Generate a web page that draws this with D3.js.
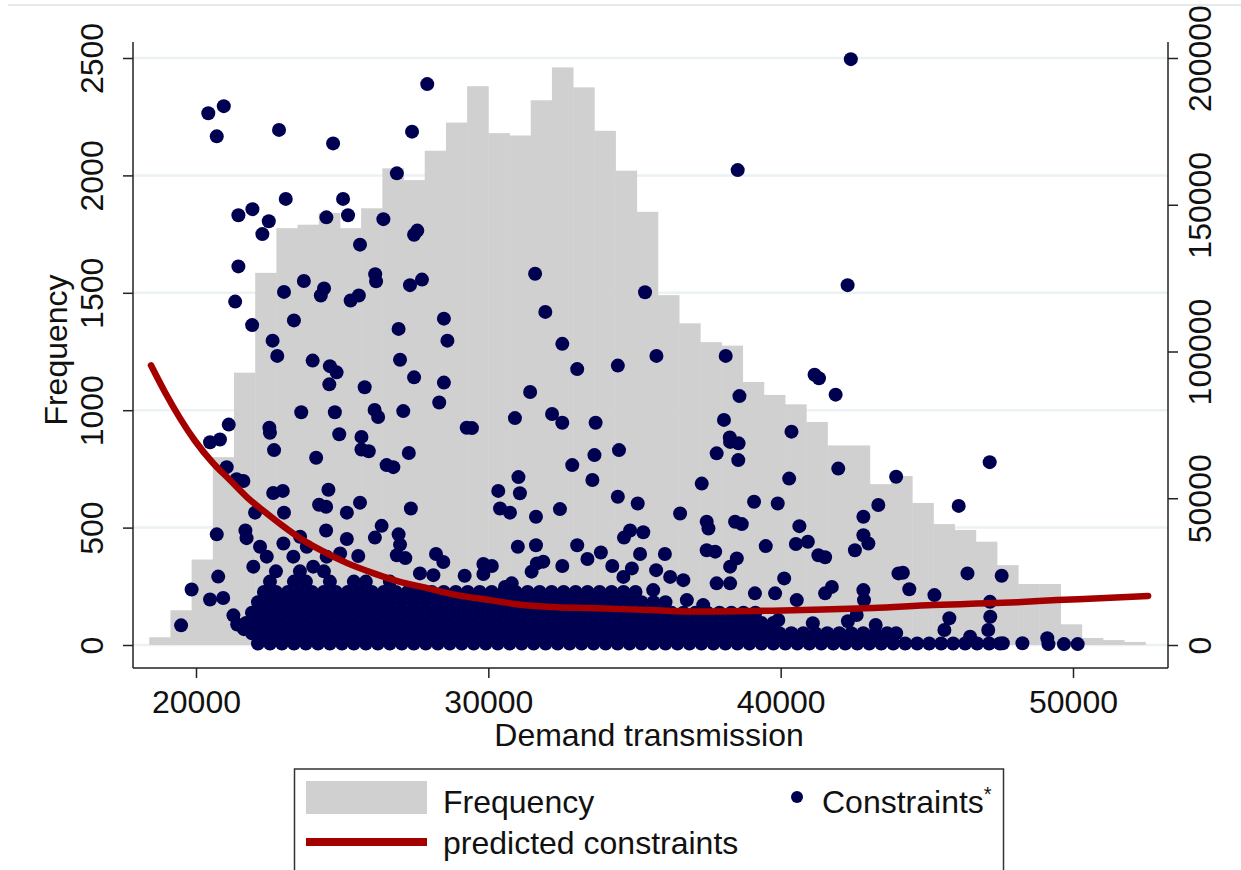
<!DOCTYPE html>
<html>
<head>
<meta charset="utf-8">
<script src="https://cdn.jsdelivr.net/npm/d3@7"></script>
<style>
  html, body { margin: 0; padding: 0; background: #fff; }
  svg { display: block; font-family: "Liberation Sans", Arial, sans-serif; }
</style>
</head>
<body>
<svg id="chart" width="1241" height="870"></svg>
<script>
// ---- Histogram of demand transmission (left axis: Frequency) ----
const binStart = 18400;
const binWidth = 725;
const binCounts = [
  33, 148, 364, 800, 1160, 1585, 1775, 1790, 1840, 1775,
  1860, 2030, 1980, 2105, 2225, 2380, 2180, 2170, 2320, 2460,
  2375, 2190, 2020, 1845, 1490, 1370, 1290, 1275, 1120, 1065,
  1025, 950, 850, 850, 685, 720, 605, 515, 490, 440,
  340, 260, 260, 88, 30, 21, 13
];

// ---- Axis ticks ----
const freqTicks = [0, 500, 1000, 1500, 2000, 2500];
const constraintTicks = [0, 50000, 100000, 150000, 200000];
const demandTicks = [20000, 30000, 40000, 50000];

// ---- Predicted constraints (right axis) ----
const predictedDemand = [
  18460, 18940, 19450, 19970, 20580, 21160, 21740, 22360, 22980, 23560,
  24140, 25170, 26060, 26980, 27770, 28930, 30060, 31190, 32350, 33480,
  35530, 37240, 39740, 41450, 43160, 45210, 46720, 48090, 49450, 50920, 52570
];
const predictedConstraints = [
  95300, 86100, 77300, 69500, 62000, 56200, 50400, 45300, 40500, 36400,
  33000, 27900, 24500, 21500, 19700, 17000, 15300, 13600, 12900, 12600,
  11900, 11400, 11700, 12100, 12600, 13600, 14100, 14600, 15300, 15900, 16700
];

// ---- Observed constraints: scattered observations [demand, constraints] ----
const constraintPoints = [
  [20420,181200],[20950,183600],[20710,173300],[22840,175500],[24690,170900],[27910,191100],[27390,174900],[26870,160700],
  [21450,146400],[21930,148500],[22490,144400],[22270,140000],[23070,152000],[24460,145700],[25030,152000],[25200,146400],
  [26410,145100],[25610,136400],[27460,139800],[27570,141200],
  [21450,129000],[21340,117000],[21920,109000],[23010,120300],[23690,124000],[24380,121500],[24270,119100],[26130,126300],
  [26160,123900],[27320,122600],[27730,124500],[25290,117400],[25570,119100],
  [22620,103700],[22780,98500],[23350,110600],[23990,96900],[24580,95000],[24810,92900],[24560,88800],[25770,87800],
  [26930,107700],[26980,97200],[27460,91200],[28480,111200],[28600,103700],[28480,89400],[28320,82600],[29260,74000],[29440,73900],
  [31600,126500],[31950,113500],[32530,102600],[33040,94000],[34430,95200],[35360,120200],[31430,86200],[30910,77300],
  [32180,78700],[32530,75700],[33670,75700],[33630,64700],[34470,66400],[32870,61300],[33560,56200],[34430,50500],[35110,48200],
  [31030,57200],[30340,52500],[31080,51700],[30400,46500],[30740,45100],[31630,43700],[32450,46300],[31010,33500],
  [31630,34000],[33040,34000],[33390,29300],[33850,31500],[32530,26900],[34240,26900],[34640,36600],[34850,39000],
  [35300,38400],[35190,31000],
  [21120,75100],[20820,70000],[20480,69100],[22510,74000],[22530,72300],[22670,66400],[23600,79300],[24750,79300],
  [24900,71800],[26110,80100],[26230,77700],[27090,79700],[25660,70900],[25660,66600],[25910,66000],[24110,63800],
  [26520,61300],[26750,60600],[27280,65400],
  [21050,60600],[21390,56500],[21620,55900],[22640,51800],[22970,52500],[24530,52900],[24210,47800],[24450,47100],
  [25160,45100],[25610,48500],[27350,46500],[23010,45100],[22020,45100],
  [20710,37700],[21690,39000],[21730,36400],[24450,39000],[25160,36100],[26120,36600],[26350,40600],[26930,37700],
  [26980,34200],[26870,30600],[27160,29600],[25550,30300],
  [20760,23300],[19850,18900],[20480,15500],[20930,16000],[19490,6700],[21280,10100],[21410,7000],[21640,5400],
  [28210,31000],[28460,28300],[29190,23600],[29830,27600],[30120,26900],[29830,24200],
  [31480,25000],[31660,27800],[31880,28400],[34910,26100],[34620,23200],[27660,24400],[28120,23800],[30570,19800],[30800,21000],
  [22190,33500],[22990,34600],[23560,36900],[23790,33500],[22420,30100],[24010,26700],[24470,30100],[24930,31200],
  [23330,30100],[21960,26700],
  [37810,65300],[38550,63000],[38270,69200],[38560,68700],[37300,55000],[40290,56700],[41970,60100],[43950,57300],
  [39090,48800],[39900,48200],[36560,44800],[37470,42000],[37530,39700],[38440,42000],[38670,41200],[40640,40500],
  [42830,43700],[43340,47700],
  [36040,31000],[37470,32300],[37760,31800],[38500,29500],[38270,26700],[39490,33700],[40520,34400],[40930,35200],
  [41290,30600],[41520,29900],[42540,32300],[42830,37400],[43000,34600],[44030,24400],
  [35740,25500],[36220,23200],[36670,22100],[37810,21000],[38270,21000],[39120,17600],[39810,17600],[40120,22700],
  [40550,15300],[41520,17600],[41750,19800],[42830,18700],[42850,15300],[35640,18700],[36790,15300],[37350,13600],
  [39920,8500],[42600,10200],[35530,9600],[38500,8500],[41100,7400],[42300,8100],[43250,6800],
  [42400,199600],[38530,161800],[42290,122600],[35750,98500],[38120,98500],[41160,92100],[41310,90900],[41880,85300],
  [38590,84800],[38060,76700],[38260,70700],[40370,72700],[47150,62300],[46090,47400],
  [44180,24600],[44400,19000],[45260,17000],[46390,24400],[47560,23600],[47160,14700],[47170,9600],[47100,5100],
  [45770,9100],[45600,5100],[43950,4000],[46480,2800],[47600,600],[48270,600],[49120,2300],[49160,300],[49690,300],[50160,300]
];

// ---- Observed constraints: the dense mass of low values, one row per level ----
const constraintBandRows = [
  { level: 500, demand: [
    22120,22530,22940,23350,23760,24170,24580,24990,25400,25810,26220,26630,27040,27450,27860,28270,
    28680,29090,29500,29910,30320,30730,31140,31550,31960,32370,32780,33190,33600,34010,34420,34830,
    35240,35650,36060,36470,36880,37290,37700,38110,38520,38930,39340,39750,40160,40570,40980,41390,
    41800,42210,42620,43030,43440,43850,44260,44670,45080,45490,45900,46310,46720,47130,47500] },
  { level: 4000, demand: [
    21915,22325,22735,23145,23555,23965,24375,24785,25195,25605,26015,26425,26835,27245,27655,28065,
    28475,28885,29295,29705,30115,30525,30935,31345,31755,32165,32575,32985,33395,33805,34215,34625,
    35035,35445,35855,36265,36675,37085,37495,37905,38315,38725,39135,39545,39955,40365,40775,41185,
    41595,42005,42415,42825,43235,43645] },
  { level: 7500, demand: [
    21710,22120,22530,22940,23350,23760,24170,24580,24990,25400,25810,26220,26630,27040,27450,27860,
    28270,28680,29090,29500,29910,30320,30730,31140,31550,31960,32370,32780,33190,33600,34010,34420,
    34830,35240,35650,36060,36470,36880,37290,37700,38110,38520,38930,39340,39750] },
  { level: 11000, demand: [
    21915,22325,22735,23145,23555,23965,24375,24785,25195,25605,26015,26425,26835,27245,27655,28065,
    28475,28885,29295,29705,30115,30525,30935,31345,31755,32165,32575,32985,33395,33805,34215,34625,
    35035,35445,35855,36265,36675,37085,37495,37905,38315,38725,39135] },
  { level: 14600, demand: [
    22120,22530,22940,23350,23760,24170,24580,24990,25400,25810,26220,26630,27040,27450,27860,28270,
    28680,29090,29500,29910,30320,30730,31140,31550,31960,32370,32780,33190,33600,34010,34420,34830,
    35240,35650,36060] },
  { level: 18100, demand: [
    22325,22735,23145,23555,23965,24375,24785,25195,25605,26015,26425,26835,27245,27655,28065,28475,
    28885,29295,29705,30115,30525,30935,31345,31755,32165,32575,32985,33395,33805,34215,34625,35035] },
  { level: 21600, demand: [
    22530,23350,23760,24580,25400,25810,26630] },
  { level: 25100, demand: [
    22735,23555,24375] }
];
const constraintBand = constraintBandRows.flatMap(row => row.demand.map(d => [d, row.level]));

// ---- Layout ----
const W = 1241;
const frame = { left: 133, right: 1168, top: 42, bottom: 668 };
const ink = "#111";
const axisInk = "#222";
const barFill = "#d0d0d0";
const gridInk = "#eaf2f3";
const dotFill = "#000050";
const lineInk = "#a50000";

const svg = d3.select("#chart");

const x = d3.scaleLinear().domain([20000, 50000]).range([196, 1073]);
const yFreq = d3.scaleLinear().domain([0, 2500]).range([645, 58]);
const yCons = d3.scaleLinear().domain([0, 200000]).range([645, 58]);

// faint rule along the top of the graph region
svg.append("line")
  .attr("x1", 8).attr("x2", W).attr("y1", 5).attr("y2", 5)
  .attr("stroke", "#e4eaec").attr("stroke-width", 2);

// horizontal gridlines at the frequency ticks
svg.append("g").selectAll("line").data(freqTicks).join("line")
  .attr("x1", frame.left).attr("x2", frame.right)
  .attr("y1", d => yFreq(d)).attr("y2", d => yFreq(d))
  .attr("stroke", gridInk).attr("stroke-width", 2.5);

// histogram bars
const bins = binCounts.map((count, i) => ({
  x0: binStart + i * binWidth,
  x1: binStart + (i + 1) * binWidth,
  count
}));
svg.append("g").selectAll("rect").data(bins).join("rect")
  .attr("x", d => x(d.x0))
  .attr("width", d => x(d.x1) - x(d.x0) + 0.4)
  .attr("y", d => yFreq(d.count))
  .attr("height", d => yFreq(0) - yFreq(d.count))
  .attr("fill", barFill);

// constraint observations
svg.append("g").attr("fill", dotFill)
  .selectAll("circle").data(constraintBand.concat(constraintPoints)).join("circle")
  .attr("cx", d => x(d[0]))
  .attr("cy", d => yCons(d[1]))
  .attr("r", 7);

// predicted constraints curve
const predicted = predictedDemand.map((d, i) => [d, predictedConstraints[i]]);
svg.append("path")
  .datum(predicted)
  .attr("fill", "none")
  .attr("stroke", lineInk)
  .attr("stroke-width", 6.5)
  .attr("stroke-linecap", "round")
  .attr("d", d3.line().x(d => x(d[0])).y(d => yCons(d[1])).curve(d3.curveMonotoneX));

// axis lines
const frameLines = [
  [frame.left, frame.top, frame.left, frame.bottom],
  [frame.right, frame.top, frame.right, frame.bottom],
  [frame.left, frame.bottom, frame.right, frame.bottom]
];
svg.append("g").selectAll("line").data(frameLines).join("line")
  .attr("x1", d => d[0]).attr("y1", d => d[1]).attr("x2", d => d[2]).attr("y2", d => d[3])
  .attr("stroke", axisInk).attr("stroke-width", 1.5);

function styleAxis(g) {
  g.select(".domain").remove();
  g.selectAll(".tick line").attr("stroke", axisInk).attr("stroke-width", 1.5);
  g.selectAll(".tick text")
    .attr("fill", ink)
    .style("font-size", "32px")
    .style("font-family", "'Liberation Sans', Arial, sans-serif");
}

// left axis: Frequency
const leftAxis = svg.append("g")
  .attr("transform", `translate(${frame.left},0)`)
  .call(d3.axisLeft(yFreq).tickValues(freqTicks).tickSize(10).tickFormat(d3.format("d")));
styleAxis(leftAxis);
leftAxis.selectAll(".tick text")
  .attr("x", null).attr("dy", null)
  .attr("text-anchor", "middle")
  .attr("transform", "translate(-30,0) rotate(-90)");

// right axis: constraints
const rightAxis = svg.append("g")
  .attr("transform", `translate(${frame.right},0)`)
  .call(d3.axisRight(yCons).tickValues(constraintTicks).tickSize(10).tickFormat(d3.format("d")));
styleAxis(rightAxis);
rightAxis.selectAll(".tick text")
  .attr("x", null).attr("dy", null)
  .attr("text-anchor", "middle")
  .attr("transform", "translate(43,0) rotate(-90)");

// bottom axis: demand transmission
const bottomAxis = svg.append("g")
  .attr("transform", `translate(0,${frame.bottom})`)
  .call(d3.axisBottom(x).tickValues(demandTicks).tickSize(10).tickFormat(d3.format("d")));
styleAxis(bottomAxis);
bottomAxis.selectAll(".tick text").attr("y", 45).attr("dy", null);

// axis titles
svg.append("text")
  .attr("transform", "translate(67,350) rotate(-90)")
  .attr("text-anchor", "middle")
  .attr("fill", ink).style("font-size", "32px")
  .text("Frequency");

svg.append("text")
  .attr("x", 649).attr("y", 746)
  .attr("text-anchor", "middle")
  .attr("fill", ink).style("font-size", "32px")
  .text("Demand transmission");

// legend
const legend = svg.append("g");
legend.append("rect")
  .attr("x", 294.5).attr("y", 769).attr("width", 709).attr("height", 130)
  .attr("fill", "#fff").attr("stroke", "#333").attr("stroke-width", 1.5);
legend.append("rect")
  .attr("x", 306).attr("y", 781).attr("width", 121).attr("height", 33)
  .attr("fill", barFill);
legend.append("text")
  .attr("x", 443).attr("y", 813)
  .attr("fill", ink).style("font-size", "32px")
  .text("Frequency");
legend.append("circle")
  .attr("cx", 797).attr("cy", 797).attr("r", 6)
  .attr("fill", dotFill);
const consLabel = legend.append("text")
  .attr("x", 822).attr("y", 813)
  .attr("fill", ink).style("font-size", "32px");
consLabel.append("tspan").text("Constraints");
consLabel.append("tspan").attr("dy", -12).style("font-size", "20px").text("*");
legend.append("line")
  .attr("x1", 306).attr("x2", 427).attr("y1", 842).attr("y2", 842)
  .attr("stroke", lineInk).attr("stroke-width", 8);
legend.append("text")
  .attr("x", 443).attr("y", 854)
  .attr("fill", ink).style("font-size", "32px")
  .text("predicted constraints");
</script>
</body>
</html>
